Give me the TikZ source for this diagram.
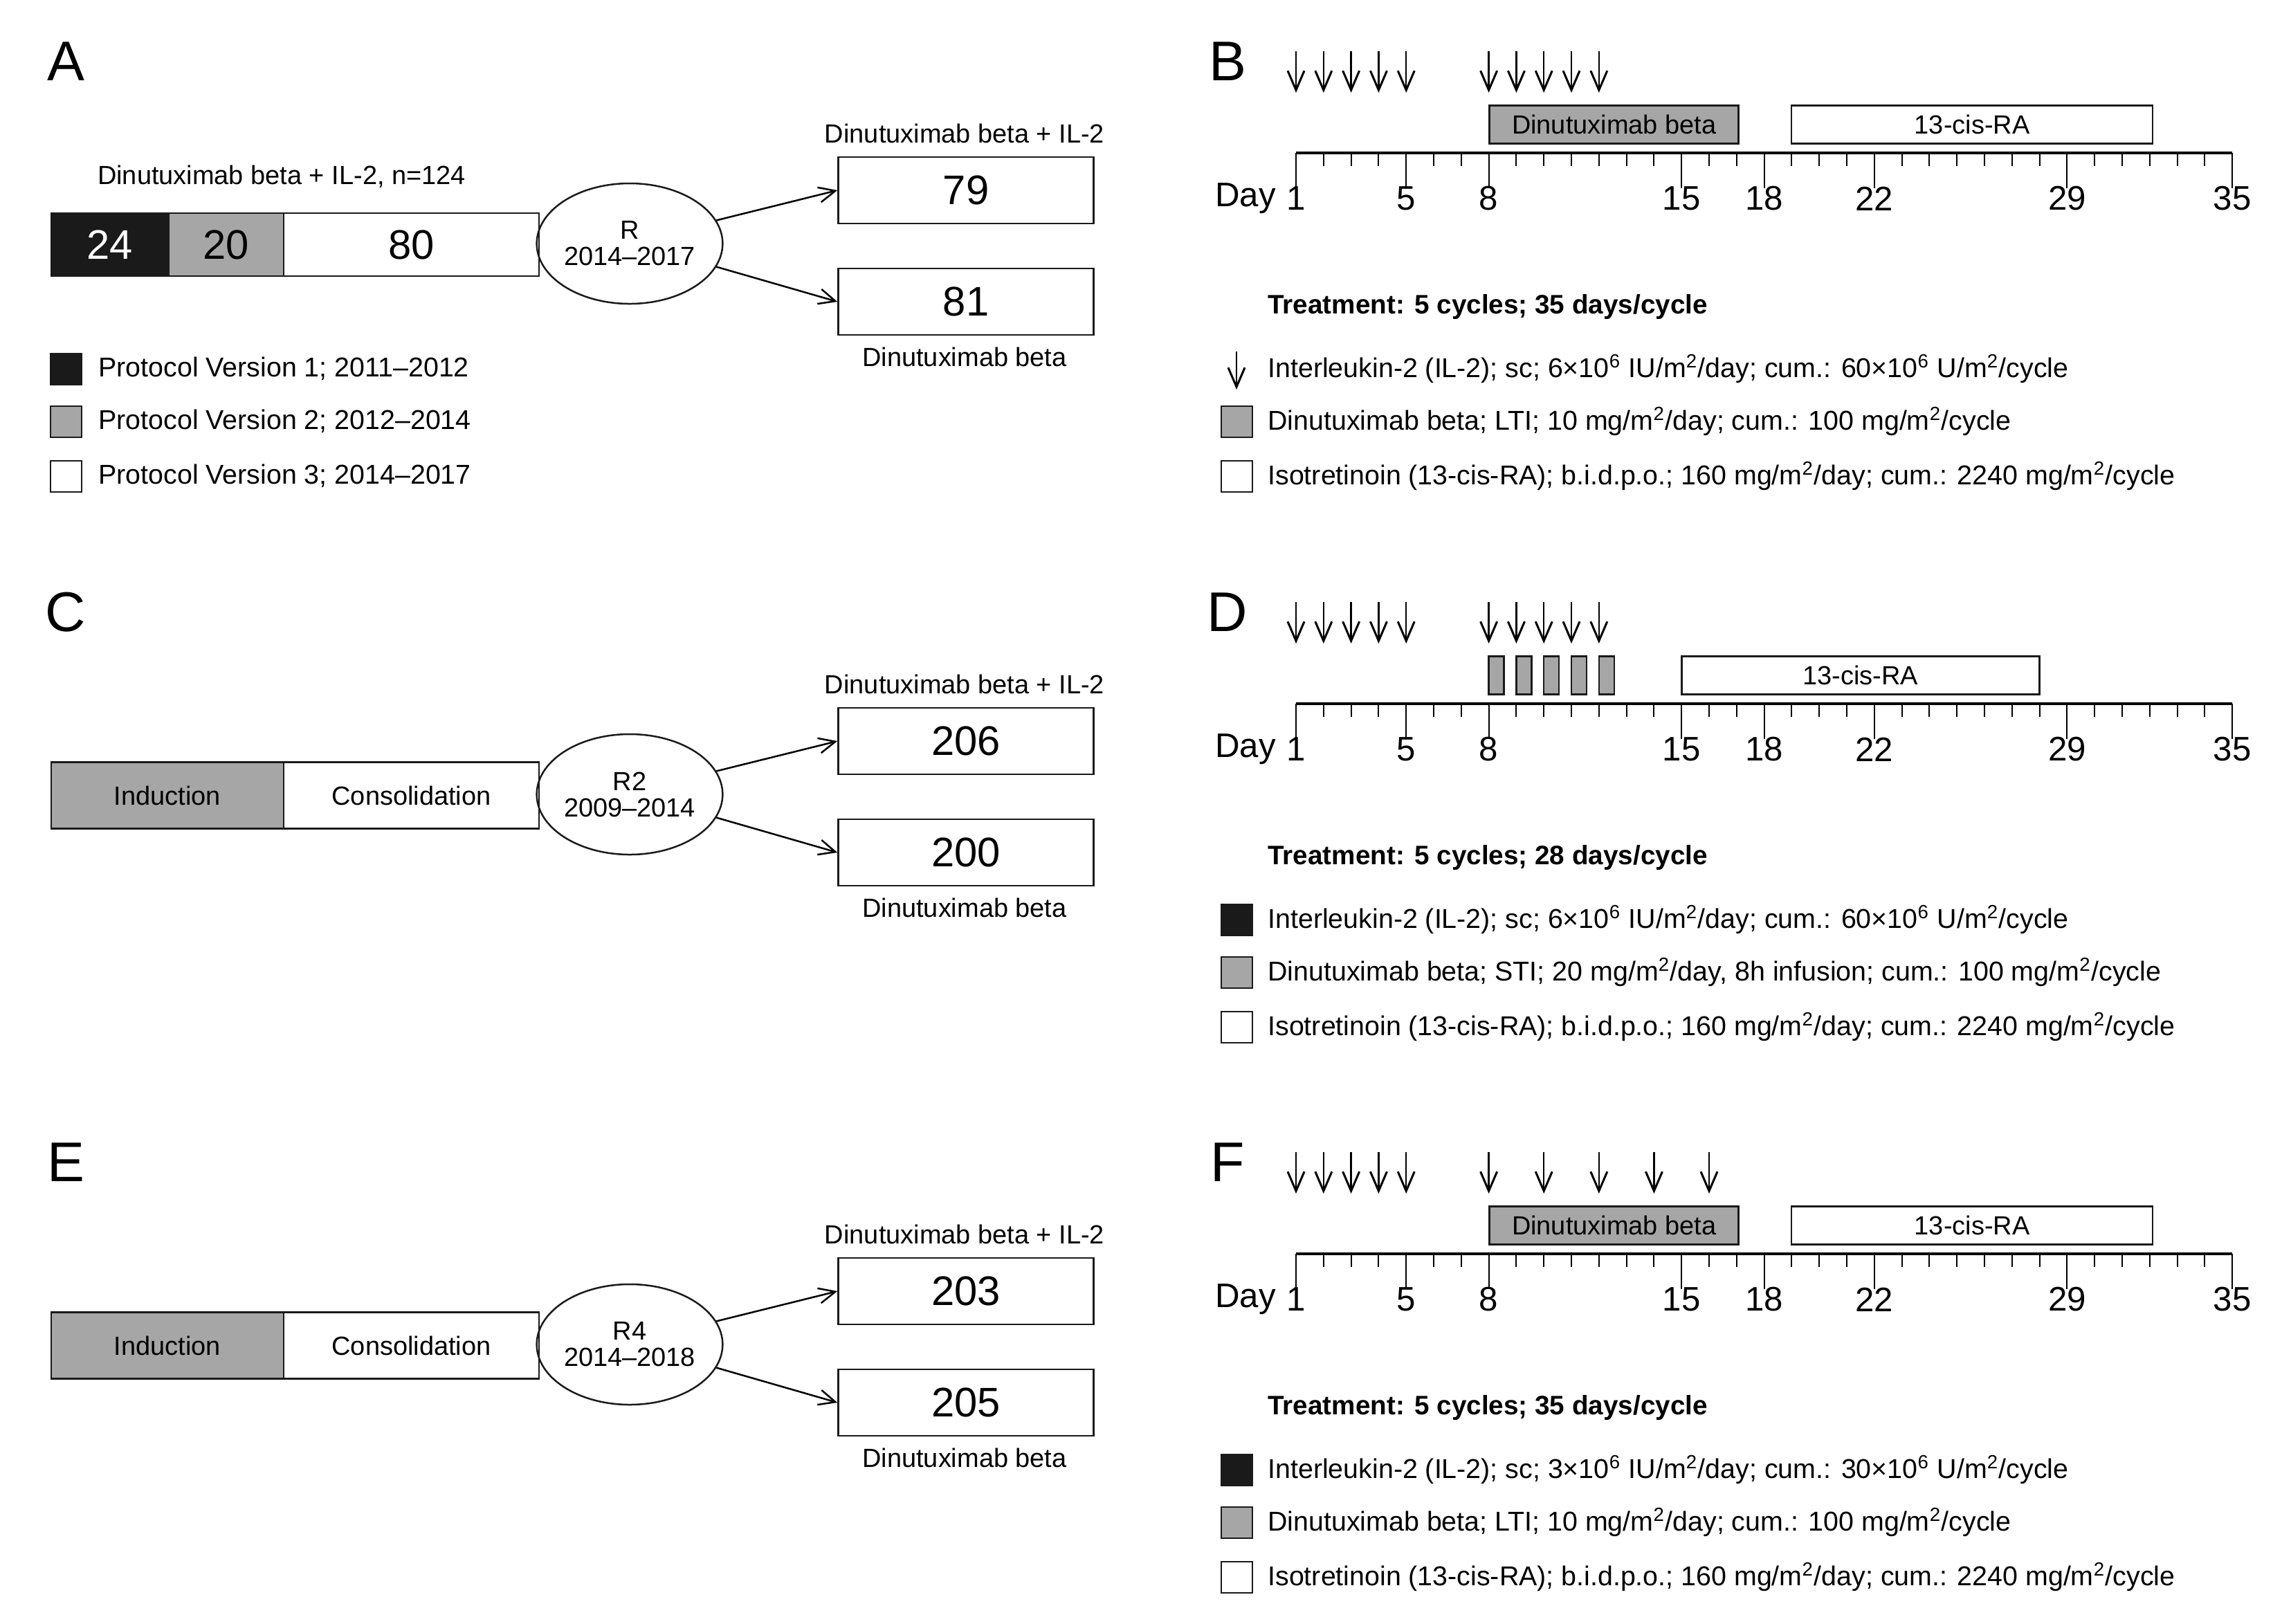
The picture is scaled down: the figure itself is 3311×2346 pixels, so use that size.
\documentclass[tikz,border=0pt]{standalone}
\usepackage{fontspec}
\setmainfont{Liberation Sans}
\usetikzlibrary{arrows.meta,shapes.geometric}
\definecolor{gbar}{HTML}{A6A6A6}
\definecolor{dk}{HTML}{1A1A1A}
\newcommand\fs[1]{\fontsize{#1}{#1}\selectfont}
\newcommand\sps[1]{\textsuperscript{#1}}
\newcommand\dx[1]{1873+39.8*(#1-1)}
\begin{document}
\begin{tikzpicture}[x=0.1mm,y=-0.1mm,
  panel/.style={font=\fs{23pt}},
  lab/.style={font=\fs{10.8pt}},
  leg/.style={font=\fs{11.2pt},anchor=west},
  big/.style={font=\fs{17pt}},
  box/.style={draw=dk,line width=0.25mm},
  sq/.style={draw=dk,line width=0.2mm,minimum size=4.5mm,inner sep=0pt},
  ell/.style={draw=dk,line width=0.25mm,ellipse,minimum width=25.8mm,minimum height=17.4mm,align=center,font=\fs{10.8pt},inner sep=0pt},
  con/.style={line width=0.25mm,-{Straight Barb[length=2.4mm,width=2.2mm]}},
  down/.style={line width=0.25mm,-{Straight Barb[length=2.8mm,width=2.4mm,line width=0.3mm]}},
  axis/.style={line width=0.4mm},
  tick/.style={line width=0.2mm},
  dl/.style={font=\fs{14pt}},
  hd/.style={font=\bfseries\fs{11pt},anchor=west}]
\useasboundingbox (0,0) rectangle (3311,2346);
\fill[white] (0,0) rectangle (3311,2346);

\newcommand\timeline{%
  \draw[axis] ({\dx{1}},221) -- ({\dx{35}},221);
  \foreach \d in {1,...,35} \draw[tick] ({\dx{\d}},221) -- ++(0,19);
  \foreach \d in {1,5,8,15,18,22,29,35} {%
    \draw[tick] ({\dx{\d}},221) -- ++(0,51);
    \node[dl] (d\d) at ({\dx{\d}},287) {\d};}
  \node[dl] (day) at (1800,287) {Day};}
\newcommand\arrowsat[1]{%
  \foreach \d in {#1} \draw[down] ({\dx{\d}},74) -- ({\dx{\d}},134);}
\newcommand\rarm[3]{%
  \node[ell] (r) at (910,352) {#1};
  \node[box,minimum width=36.9mm,minimum height=9.6mm,big] (t) at (1396,275) {#2};
  \node[box,minimum width=36.9mm,minimum height=9.6mm,big] (b) at (1396,436) {#3};
  \node[lab] (tl) at (1394,193) {Dinutuximab beta + IL-2};
  \node[lab] (bl) at (1394,516) {Dinutuximab beta};
  \draw[con] (r.15) -- (t.west);
  \draw[con] (r.-15) -- (b.west);}
\newcommand\gbox[3]{% name, from day, to day, text
  \draw[box,fill=gbar] ({\dx{#2}},153) rectangle ({\dx{#3}},208);}

% ---------- A ----------
\node[panel] (A) at (95,89) {A};
\node[lab] (an) at (407,255) {Dinutuximab beta + IL-2, n=124};
\node[box,fill=dk,minimum width=17mm,minimum height=9.1mm,text=white,big] (a1) at (159,353.5) {24};
\node[box,fill=gbar,minimum width=16.6mm,minimum height=9.1mm,big] (a2) at (327,353.5) {20};
\node[box,fill=white,minimum width=36.9mm,minimum height=9.1mm,big] (a3) at (594.5,353.5) {80};
\rarm{R\\2014–2017}{79}{81}
\node[sq,fill=dk] (s1) at (95,533) {};
\node[leg] (l1) at (130,533) {Protocol Version 1; 2011–2012};
\node[sq,fill=gbar] (s2) at (95,609) {};
\node[leg] (l2) at (130,609) {Protocol Version 2; 2012–2014};
\node[sq,fill=white] (s3) at (95,688) {};
\node[leg] (l3) at (130,688) {Protocol Version 3; 2014–2017};

% ---------- C ----------
\begin{scope}[yshift=-79.6mm]
\node[panel] (C) at (95,89) {C};
\node[box,fill=gbar,minimum width=33.6mm,minimum height=9.6mm,lab] (ci) at (242,353.5) {Induction};
\node[box,fill=white,minimum width=36.9mm,minimum height=9.6mm,lab] (cc) at (594.5,353.5) {Consolidation};
\rarm{R2\\2009–2014}{206}{200}
\end{scope}

% ---------- E ----------
\begin{scope}[yshift=-159.1mm]
\node[panel] (E) at (95,89) {E};
\node[box,fill=gbar,minimum width=33.6mm,minimum height=9.6mm,lab] (ei) at (242,353.5) {Induction};
\node[box,fill=white,minimum width=36.9mm,minimum height=9.6mm,lab] (ec) at (594.5,353.5) {Consolidation};
\rarm{R4\\2014–2018}{203}{205}
\end{scope}

% ---------- B ----------
\node[panel] (B) at (1774,89) {B};
\arrowsat{1,2,3,4,5,8,9,10,11,12}
\node[box,fill=gbar,minimum width=36.0mm,minimum height=5.5mm,lab] (bd) at ({(\dx{8}+\dx{17.1})/2},180) {Dinutuximab beta};
\node[box,fill=white,minimum width=52.2mm,minimum height=5.5mm,lab] (br) at ({(\dx{19}+\dx{32.1})/2},180) {13-cis-RA};
\timeline
\node[hd] (bh) at (1820,443) {Treatment: 5 cycles; 35 days/cycle};
\draw[down] (1787,508) -- (1787,563);
\node[leg] (b1) at (1820,533) {Interleukin-2 (IL-2); sc; 6×10\sps{6} IU/m\sps{2}/day; cum.: 60×10\sps{6} U/m\sps{2}/cycle};
\node[sq,fill=gbar] (bs2) at (1787,609) {};
\node[leg] (b2) at (1820,609) {Dinutuximab beta; LTI; 10 mg/m\sps{2}/day; cum.: 100 mg/m\sps{2}/cycle};
\node[sq,fill=white] (bs3) at (1787,688) {};
\node[leg] (b3) at (1820,688) {Isotretinoin (13-cis-RA); b.i.d.p.o.; 160 mg/m\sps{2}/day; cum.: 2240 mg/m\sps{2}/cycle};

% ---------- D ----------
\begin{scope}[yshift=-79.6mm]
\node[panel] (D) at (1774,89) {D};
\arrowsat{1,2,3,4,5,8,9,10,11,12}
\foreach \d in {8,...,12}
  \node[box,fill=gbar,minimum width=2.2mm,minimum height=5.5mm,inner sep=0pt] (dd\d) at ({\dx{\d}+11},180) {};
\node[box,fill=white,minimum width=51.7mm,minimum height=5.5mm,lab] (dr) at ({(\dx{15}+\dx{28})/2},180) {13-cis-RA};
\timeline
\node[hd] (dh) at (1820,443) {Treatment: 5 cycles; 28 days/cycle};
\node[sq,fill=dk] (ds1) at (1787,533) {};
\node[leg] (d1) at (1820,533) {Interleukin-2 (IL-2); sc; 6×10\sps{6} IU/m\sps{2}/day; cum.: 60×10\sps{6} U/m\sps{2}/cycle};
\node[sq,fill=gbar] (ds2) at (1787,609) {};
\node[leg] (d2) at (1820,609) {Dinutuximab beta; STI; 20 mg/m\sps{2}/day, 8h infusion; cum.: 100 mg/m\sps{2}/cycle};
\node[sq,fill=white] (ds3) at (1787,688) {};
\node[leg] (d3) at (1820,688) {Isotretinoin (13-cis-RA); b.i.d.p.o.; 160 mg/m\sps{2}/day; cum.: 2240 mg/m\sps{2}/cycle};
\end{scope}

% ---------- F ----------
\begin{scope}[yshift=-159.1mm]
\node[panel] (F) at (1774,89) {F};
\arrowsat{1,2,3,4,5,8,10,12,14,16}
\node[box,fill=gbar,minimum width=36.0mm,minimum height=5.5mm,lab] (fd) at ({(\dx{8}+\dx{17.1})/2},180) {Dinutuximab beta};
\node[box,fill=white,minimum width=52.2mm,minimum height=5.5mm,lab] (fr) at ({(\dx{19}+\dx{32.1})/2},180) {13-cis-RA};
\timeline
\node[hd] (fh) at (1820,443) {Treatment: 5 cycles; 35 days/cycle};
\node[sq,fill=dk] (fs1) at (1787,533) {};
\node[leg] (f1) at (1820,533) {Interleukin-2 (IL-2); sc; 3×10\sps{6} IU/m\sps{2}/day; cum.: 30×10\sps{6} U/m\sps{2}/cycle};
\node[sq,fill=gbar] (fs2) at (1787,609) {};
\node[leg] (f2) at (1820,609) {Dinutuximab beta; LTI; 10 mg/m\sps{2}/day; cum.: 100 mg/m\sps{2}/cycle};
\node[sq,fill=white] (fs3) at (1787,688) {};
\node[leg] (f3) at (1820,688) {Isotretinoin (13-cis-RA); b.i.d.p.o.; 160 mg/m\sps{2}/day; cum.: 2240 mg/m\sps{2}/cycle};
\end{scope}
\end{tikzpicture}
\end{document}
